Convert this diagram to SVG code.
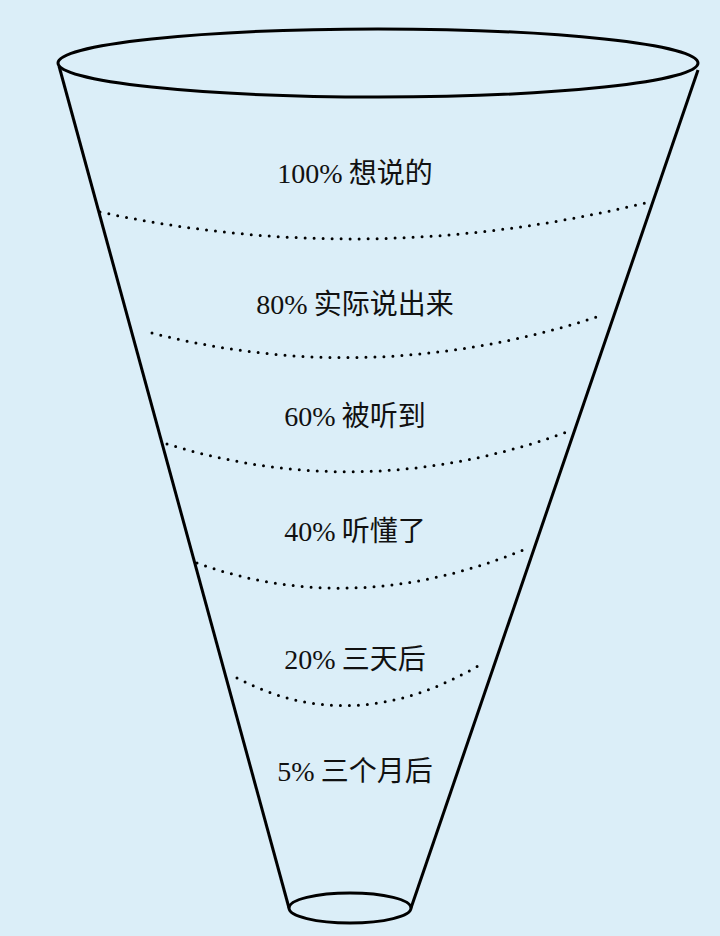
<svg xmlns="http://www.w3.org/2000/svg" width="720" height="936" viewBox="0 0 720 936">
<style>
.o{fill:none;stroke:#000;stroke-width:3}
.d{fill:none;stroke:#000;stroke-width:3;stroke-dasharray:0 9;stroke-linecap:round}
text{font-family:"Liberation Serif","Noto Sans CJK SC",serif;font-size:28px;fill:#111;text-anchor:middle}
</style>
<rect width="720" height="936" fill="#dbeef8"/>
<g id="funnel">
<ellipse class="o" cx="378" cy="63" rx="320" ry="34"/>
<line class="o" x1="59" y1="66" x2="289" y2="908"/>
<line class="o" x1="698" y1="70" x2="411" y2="908"/>
<ellipse class="o" cx="350" cy="908" rx="61" ry="15"/>
</g>
<g id="connectors">
<path class="d" d="M100 212 Q370 270 645 203"/>
<path class="d" d="M152 333 Q375 390 603 315"/>
<path class="d" d="M167 444 Q365 505 567 432"/>
<path class="d" d="M197 563 Q355 620 528 548"/>
<path class="d" d="M237 678 Q355 740 483 663"/>
</g>
<g id="n1"><text x="355" y="183">100%<tspan font-family="Noto Sans CJK SC"> 想说的</tspan></text></g>
<g id="n2"><text x="355" y="314">80%<tspan font-family="Noto Sans CJK SC"> 实际说出来</tspan></text></g>
<g id="n3"><text x="355" y="426">60%<tspan font-family="Noto Sans CJK SC"> 被听到</tspan></text></g>
<g id="n4"><text x="355" y="541">40%<tspan font-family="Noto Sans CJK SC"> 听懂了</tspan></text></g>
<g id="n5"><text x="355" y="669">20%<tspan font-family="Noto Sans CJK SC"> 三天后</tspan></text></g>
<g id="n6"><text x="355" y="781">5%<tspan font-family="Noto Sans CJK SC"> 三个月后</tspan></text></g>
</svg>
